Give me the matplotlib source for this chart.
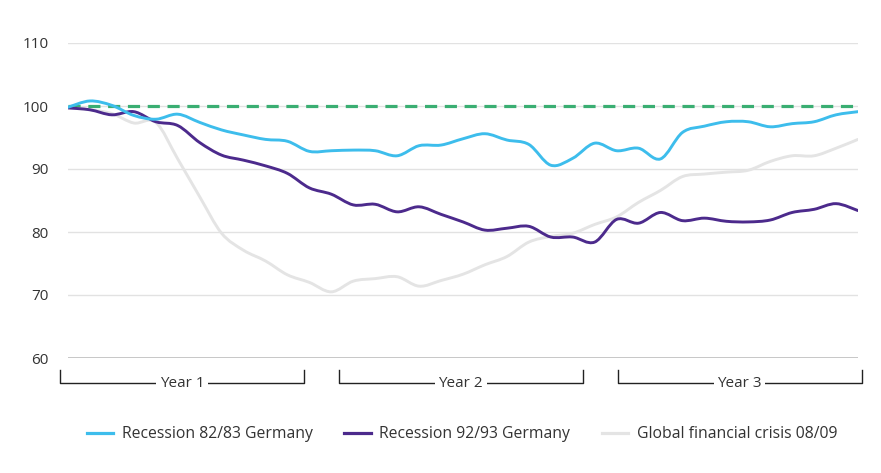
import matplotlib
matplotlib.use("Agg")
import matplotlib.pyplot as plt
import matplotlib.transforms as mtransforms
from matplotlib.path import Path
from matplotlib.patches import PathPatch
from matplotlib.lines import Line2D
import numpy as np

plt.rcParams['font.family'] = ['Open Sans', 'DejaVu Sans']

# months since start of the recession (0..36)
months = np.arange(37)

recession_8283 = [99.8, 100.8, 100.1, 98.5, 97.9, 98.7, 97.4, 96.2, 95.4, 94.7,
                  94.4, 92.8, 92.9, 93.0, 92.9, 92.1, 93.7, 93.8, 94.8, 95.6,
                  94.6, 93.9, 90.6, 91.7, 94.1, 92.9, 93.3, 91.6, 95.8, 96.8,
                  97.5, 97.5, 96.7, 97.2, 97.5, 98.6, 99.1]
recession_9293 = [99.7, 99.4, 98.6, 99.1, 97.5, 96.9, 94.2, 92.2, 91.4, 90.5,
                  89.3, 87.0, 86.0, 84.3, 84.4, 83.2, 84.0, 82.8, 81.6, 80.3,
                  80.6, 80.9, 79.2, 79.2, 78.4, 82.0, 81.4, 83.1, 81.8, 82.2,
                  81.7, 81.6, 81.9, 83.1, 83.6, 84.5, 83.4]
crisis_0809 = [99.7, 99.4, 98.8, 97.3, 97.4, 91.6, 85.6, 79.8, 77.1, 75.4,
               73.2, 72.0, 70.5, 72.2, 72.6, 72.9, 71.4, 72.3, 73.3, 74.8,
               76.1, 78.4, 79.3, 79.8, 81.2, 82.4, 84.7, 86.6, 88.8, 89.2,
               89.5, 89.8, 91.2, 92.1, 92.1, 93.3, 94.7]
baseline = 100

yticks = [60, 70, 80, 90, 100, 110]
years = ["Year 1", "Year 2", "Year 3"]

blue = "#3dbdec"
purple = "#4c2a8c"
grey = "#e4e4e4"
green = "#3aae72"
text_col = "#333333"


def smooth_line(ax, x, y, **kw):
    # catmull-rom style bezier through the points (like a "smooth" line option)
    pts = np.column_stack([x, y]).astype(float)
    ext = np.vstack([pts[0], pts, pts[-1]])
    verts = [pts[0]]
    codes = [Path.MOVETO]
    for i in range(1, len(ext) - 2):
        p0, p1, p2, p3 = ext[i - 1], ext[i], ext[i + 1], ext[i + 2]
        verts += [p1 + (p2 - p0) / 6, p2 - (p3 - p1) / 6, p2]
        codes += [Path.CURVE4] * 3
    patch = PathPatch(Path(verts, codes), fill=False, capstyle="round",
                      joinstyle="round", **kw)
    ax.add_patch(patch)
    return patch


fig = plt.figure(figsize=(8.81, 4.73), dpi=100)
ax = fig.add_axes([68 / 881, 1 - 358 / 473, 790 / 881, 315 / 473])

for y in yticks[1:]:
    ax.axhline(y, color="#e2e2e2", lw=1, zorder=0)
ax.axhline(60, color="#bdbdbd", lw=1.2, zorder=0)
ax.axhline(baseline, color=green, lw=2.3, dashes=(3.8, 2.4), zorder=1)

smooth_line(ax, months, crisis_0809, edgecolor=grey, lw=2.1, zorder=2)
smooth_line(ax, months, recession_9293, edgecolor=purple, lw=2.1, zorder=3)
smooth_line(ax, months, recession_8283, edgecolor=blue, lw=2.1, zorder=4)

ax.set_xlim(0, 36)
ax.set_ylim(60, 110)
ax.set_yticks(yticks)
ax.set_xticks([])
ax.tick_params(axis="y", length=0, pad=14, labelsize=11, labelcolor=text_col)
for s in ax.spines.values():
    s.set_visible(False)

# year brackets below the axis
trans = mtransforms.blended_transform_factory(ax.transData, ax.transAxes)
y_top = -12 / 315
y_bot = -25 / 315
starts = [-0.36, 12.35, 25.06]
for x0, name in zip(starts, years):
    x1 = x0 + 11.1
    xm = (x0 + x1) / 2
    ax.plot([x0, x0, x1, x1], [y_top, y_bot, y_bot, y_top], color="#222222",
            lw=1, transform=trans, clip_on=False)
    ax.text(xm, y_bot, name, transform=trans, ha="center", va="center",
            fontsize=11, color=text_col,
            bbox=dict(facecolor="white", edgecolor="none", pad=2.5))

handles = [Line2D([], [], color=blue, lw=2.3),
           Line2D([], [], color=purple, lw=2.3),
           Line2D([], [], color=grey, lw=2.3)]
labels = ["Recession 82/83 Germany", "Recession 92/93 Germany",
          "Global financial crisis 08/09"]
fig.legend(handles, labels, loc="center", bbox_to_anchor=(462 / 881, 1 - 434 / 473),
           ncol=3, frameon=False, fontsize=11.3, handlelength=1.7,
           handletextpad=0.55, columnspacing=2.0, labelcolor=text_col)

fig.savefig("out.png", dpi=100)
